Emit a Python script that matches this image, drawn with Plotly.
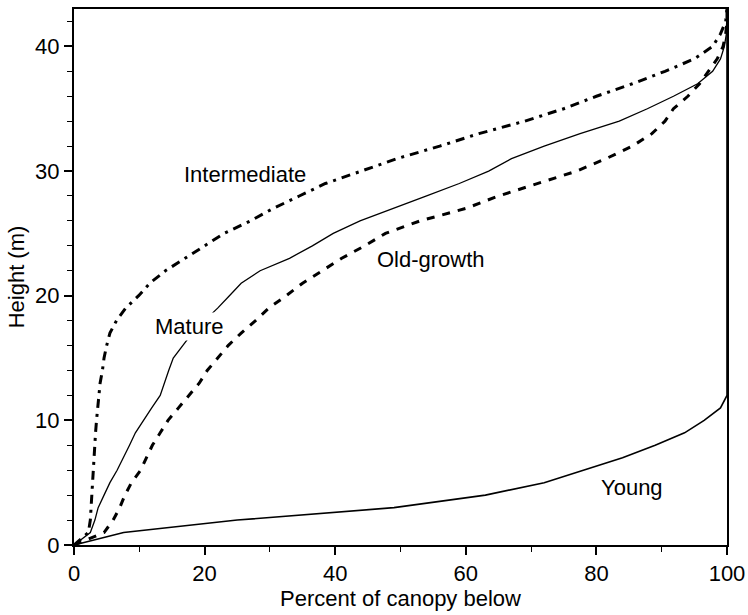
import plotly.graph_objects as go

heights = list(range(0, 44))

intermediate_pct = [0, 2.2, 2.5, 2.6, 2.7, 2.8, 2.9, 3.0, 3.15, 3.3, 3.45, 3.6, 3.8, 4.0,
                    4.35, 4.6, 5.0, 5.5, 6.5, 7.9, 9.9, 11.6, 14.0, 17.0, 20.0, 23.0,
                    27.0, 30.5, 34.5, 38.5, 44.0, 49.5, 56.0, 62.0, 69.0, 75.0, 80.0,
                    85.5, 90.5, 95.0, 97.8, 99.0, 99.8, 100]
mature_pct = [0, 2.5, 3.2, 3.7, 4.6, 5.5, 6.6, 7.6, 8.5, 9.4, 10.6, 11.9, 13.2, 13.8,
              14.5, 15.2, 16.7, 18.1, 20.0, 22.0, 23.8, 25.6, 28.5, 33.0, 36.5, 39.7,
              43.8, 49.0, 54.0, 59.0, 63.5, 67.0, 72.0, 77.5, 83.5, 87.8, 91.8, 95.5,
              97.8, 99.0, 99.6, 99.9, 100, 100]
oldgrowth_pct = [0, 4.6, 6.0, 7.0, 7.8, 8.8, 10.2, 11.1, 12.0, 13.2, 14.4, 16.0, 17.6,
                 19.2, 20.4, 22.0, 23.6, 25.6, 27.8, 29.8, 32.5, 35.0, 38.0, 41.0, 44.5,
                 47.7, 53.0, 60.0, 65.0, 71.0, 77.0, 81.5, 85.5, 88.5, 90.5, 91.8, 94.0,
                 95.8, 97.2, 98.5, 99.4, 99.8, 100, 100]
young_heights = [0, 1, 2, 3, 4, 5, 6, 7, 8, 9, 10, 11, 12, 43]
young_pct = [0, 7.6, 25.0, 49.0, 63.0, 72.0, 78.0, 84.0, 89.0, 93.5, 96.5, 99.0, 100, 100]

labels = ["Intermediate", "Old-growth", "Mature", "Young"]
label_x = [26.2, 54.7, 17.6, 85.5]
label_y = [29.7, 22.9, 17.5, 4.6]

FONT = "Liberation Sans, Arial"

fig = go.Figure()
fig.add_trace(go.Scatter(x=intermediate_pct, y=heights, mode="lines",
                         line=dict(color="black", width=3, dash="9px,6px,3px,6px"),
                         name="Intermediate"))
fig.add_trace(go.Scatter(x=oldgrowth_pct, y=heights, mode="lines",
                         line=dict(color="black", width=3, dash="8px,8px"),
                         name="Old-growth"))
fig.add_trace(go.Scatter(x=mature_pct, y=heights, mode="lines",
                         line=dict(color="black", width=1.3), name="Mature"))
fig.add_trace(go.Scatter(x=young_pct, y=young_heights, mode="lines",
                         line=dict(color="black", width=1.6), name="Young"))

for t, x, y in zip(labels, label_x, label_y):
    fig.add_annotation(x=x, y=y, text=t, showarrow=False,
                       font=dict(size=22, color="black", family=FONT),
                       bgcolor="white" if t == "Mature" else "rgba(0,0,0,0)")

fig.update_layout(
    width=748, height=615,
    margin=dict(l=74, r=21, t=9, b=70),
    paper_bgcolor="white", plot_bgcolor="white",
    showlegend=False,
    font=dict(family=FONT, size=22, color="black"),
)
fig.update_xaxes(range=[0, 100], tick0=0, dtick=20, ticks="outside", ticklen=8,
                 tickwidth=1.5, tickcolor="black", tickfont=dict(size=22),
                 minor=dict(dtick=10, tick0=0, ticks="outside", ticklen=5, tickwidth=1.2, tickcolor="black"),
                 showline=True, linecolor="black", linewidth=2, mirror=True,
                 showgrid=False, zeroline=False, automargin=False,
                 title=dict(text="Percent of canopy below", font=dict(size=22), standoff=5))
fig.update_yaxes(range=[0, 43], tick0=0, dtick=10, ticks="outside", ticklen=8,
                 tickwidth=1.5, tickcolor="black", tickfont=dict(size=22),
                 minor=dict(dtick=2, tick0=0, ticks="outside", ticklen=5, tickwidth=1.2, tickcolor="black"),
                 showline=True, linecolor="black", linewidth=2, mirror=True,
                 showgrid=False, zeroline=False, automargin=False,
                 title=dict(text="Height (m)", font=dict(size=22), standoff=4))

fig.write_html("out.html")
